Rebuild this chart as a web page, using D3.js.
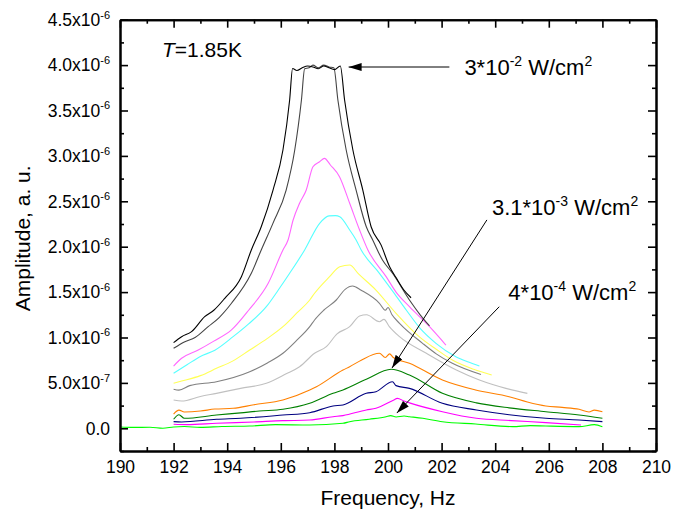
<!DOCTYPE html>
<html>
<head>
<meta charset="utf-8">
<script src="https://cdn.jsdelivr.net/npm/d3@7"></script>
<style>
  html, body { margin: 0; padding: 0; background: #fff; }
  svg { display: block; font-family: "Liberation Sans", Arial, sans-serif; }
</style>
</head>
<body>
<svg id="chart" width="689" height="516"></svg>
<script>
// ---------- DATA (frequency in Hz, amplitude in units of 1e-6 a.u.) ----------
const xMajorTicks = [190, 192, 194, 196, 198, 200, 202, 204, 206, 208, 210];
const xMinorTicks = [191, 193, 195, 197, 199, 201, 203, 205, 207, 209];
const yMajorTicks = [0, 0.5, 1.0, 1.5, 2.0, 2.5, 3.0, 3.5, 4.0, 4.5];
const yMinorTicks = [-0.25, 0.25, 0.75, 1.25, 1.75, 2.25, 2.75, 3.25, 3.75, 4.25];
const yTickMantissa = ["0.0", "5.0", "1.0", "1.5", "2.0", "2.5", "3.0", "3.5", "4.0", "4.5"];
const yTickExponent = ["", "-7", "-6", "-6", "-6", "-6", "-6", "-6", "-6", "-6"];

const curveBlack = [[192.0,0.943],[192.3,1.009],[192.67,1.064],[193.16,1.229],[193.5,1.3],[193.91,1.432],[194.53,1.67],[194.9,1.964],[195.27,2.22],[195.71,2.624],[196.08,3.065],[196.33,3.616],[196.44,3.963],[196.6,3.94],[196.8,3.97],[197.0,3.99],[197.2,3.98],[197.4,3.96],[197.6,3.99],[197.8,3.97],[198.0,3.95],[198.22,3.99],[198.38,3.616],[198.69,3.065],[199.06,2.624],[199.37,2.22],[199.74,2.02],[200.06,1.78],[200.3,1.66],[200.6,1.52],[200.86,1.438]];
const curveDarkGray = [[192.0,0.881],[192.42,0.954],[192.8,1.0],[193.29,1.119],[193.7,1.22],[194.16,1.377],[194.9,1.707],[195.27,1.964],[195.71,2.26],[196.2,2.624],[196.52,3.065],[196.77,3.616],[196.89,3.96],[197.05,3.97],[197.2,4.0],[197.4,3.97],[197.6,4.0],[197.8,3.98],[197.98,3.97],[198.13,3.616],[198.44,3.065],[198.81,2.624],[199.19,2.22],[199.43,2.074],[199.8,1.85],[200.17,1.707],[200.8,1.413],[201.2,1.25],[201.55,1.127]];
const curveViolet = [[192.0,0.686],[192.3,0.771],[192.92,0.862],[193.5,0.96],[194.16,1.083],[194.8,1.3],[195.53,1.597],[196.08,1.964],[196.27,2.074],[196.46,2.294],[196.7,2.478],[196.95,2.624],[197.2,2.88],[197.45,2.936],[197.63,2.973],[197.85,2.9],[198.19,2.771],[198.57,2.478],[198.94,2.184],[199.25,1.964],[199.93,1.67],[200.3,1.5],[200.8,1.339],[201.55,1.119],[202.16,0.917]];
const curveCyan = [[192.0,0.606],[192.5,0.7],[192.98,0.789],[193.54,0.86],[194.22,1.009],[194.8,1.15],[195.46,1.339],[195.9,1.52],[196.33,1.707],[196.89,1.964],[197.45,2.258],[197.8,2.34],[198.04,2.342],[198.2,2.33],[198.57,2.184],[198.81,2.074],[199.0,1.964],[199.68,1.707],[200.2,1.5],[200.68,1.303],[201.2,1.1],[201.79,0.936],[202.53,0.789],[203.0,0.73],[203.41,0.686]];
const curveYellow = [[192.0,0.496],[192.3,0.52],[193.0,0.58],[193.6,0.66],[194.2,0.74],[194.84,0.862],[195.5,0.99],[196.08,1.119],[196.6,1.27],[197.08,1.413],[197.26,1.487],[197.82,1.67],[198.2,1.78],[198.57,1.798],[198.9,1.7],[199.55,1.523],[200.3,1.266],[201.16,1.009],[201.8,0.87],[202.4,0.752],[203.2,0.65],[203.87,0.587]];
const curveGray = [[192.0,0.43],[192.2,0.42],[192.6,0.47],[193.6,0.513],[194.84,0.623],[195.5,0.72],[196.08,0.826],[196.6,0.97],[197.08,1.119],[197.26,1.193],[197.6,1.3],[198.07,1.413],[198.4,1.53],[198.68,1.567],[199.0,1.52],[199.68,1.377],[199.9,1.3],[200.0,1.33],[200.15,1.25],[200.43,1.156],[201.29,0.936],[201.8,0.82],[202.4,0.716],[203.47,0.592]];
const curveSilver = [[192.0,0.312],[192.3,0.3],[193.0,0.35],[193.6,0.385],[194.5,0.44],[195.46,0.495],[196.2,0.6],[196.7,0.678],[197.26,0.826],[197.7,0.899],[198.1,1.04],[198.57,1.119],[198.94,1.237],[199.2,1.25],[199.68,1.174],[199.85,1.2],[200.05,1.12],[200.43,1.009],[201.43,0.826],[202.55,0.642],[203.41,0.532],[204.4,0.44],[205.2,0.385]];
const curveOrange = [[192.0,0.157],[192.2,0.2],[192.4,0.18],[193.0,0.19],[193.54,0.212],[194.22,0.22],[195.0,0.26],[196.08,0.312],[197.08,0.422],[197.33,0.458],[198.32,0.642],[198.57,0.678],[199.0,0.75],[199.68,0.826],[199.9,0.78],[200.06,0.82],[200.2,0.78],[200.8,0.716],[202.03,0.532],[203.27,0.422],[204.52,0.348],[205.2,0.29],[205.89,0.246],[206.5,0.23],[207.13,0.209],[207.5,0.18],[207.7,0.2],[208.0,0.183]];
const curveDarkGreen = [[192.0,0.1],[192.2,0.15],[192.4,0.11],[193.6,0.146],[194.5,0.17],[195.2,0.19],[196.08,0.209],[197.08,0.275],[197.95,0.385],[198.32,0.422],[199.19,0.54],[200.12,0.65],[200.8,0.587],[202.03,0.385],[203.3,0.28],[204.52,0.225],[205.89,0.183],[207.13,0.146],[208.0,0.11]];
const curveNavy = [[192.0,0.073],[192.3,0.07],[193.6,0.099],[194.5,0.11],[196.08,0.146],[197.08,0.172],[197.95,0.246],[198.32,0.257],[199.19,0.385],[199.55,0.403],[200.17,0.513],[200.3,0.47],[200.8,0.44],[202.03,0.275],[203.3,0.202],[204.52,0.15],[205.89,0.11],[207.13,0.091],[208.0,0.073]];
const curveMagenta = [[192.0,0.044],[192.5,0.04],[193.6,0.055],[195.0,0.07],[196.08,0.084],[197.08,0.091],[197.95,0.128],[198.32,0.14],[199.19,0.202],[199.55,0.22],[200.2,0.31],[200.35,0.33],[200.6,0.3],[200.8,0.28],[202.03,0.183],[203.3,0.11],[204.6,0.085],[205.89,0.062],[207.2,0.036]];
const curveLime = [[190.0,0.015],[190.5,0.01],[191.12,0.011],[191.6,0.0],[192.0,0.015],[192.4,0.02],[193.0,0.01],[193.8,0.02],[194.84,0.025],[195.8,0.04],[197.08,0.036],[198.32,0.055],[198.57,0.073],[199.3,0.1],[199.93,0.128],[200.1,0.14],[200.3,0.125],[200.6,0.135],[200.8,0.128],[201.3,0.11],[202.03,0.073],[203.27,0.047],[204.65,0.018],[205.3,0.03],[205.89,0.025],[207.13,0.018],[207.7,0.04],[208.0,0.018]];

const seriesData = [curveBlack, curveDarkGray, curveViolet, curveCyan, curveYellow, curveGray, curveSilver, curveOrange, curveDarkGreen, curveNavy, curveMagenta, curveLime];
const seriesColors = ["#000000", "#444444", "#ff66ff", "#55ffff", "#ffff55", "#808080", "#c0c0c0", "#ff8000", "#008000", "#000080", "#ff00ff", "#00ff00"];

// annotations
const annoBase = ["3*10", "3.1*10", "4*10"];
const annoExp = ["-2", "-3", "-4"];
const annoTail = [[202.29, 3.979], [203.69, 2.295], [204.15, 1.339]];
const annoHead = [[198.53, 3.979], [200.15, 0.664], [200.33, 0.168]];
const annoText = [[202.85, 3.89], [203.88, 2.349], [204.49, 1.413]];

// ---------- CHART ----------
const svg = d3.select("#chart");
const L = 120, R = 656, T = 19.7, B = 451;
const x = d3.scaleLinear().domain([190, 210]).range([L, R]);
const y = d3.scaleLinear().domain([-0.25, 4.5]).range([B, T]);

svg.append("defs").append("marker")
  .attr("id", "arrow").attr("viewBox", "0 0 13 8").attr("refX", 13).attr("refY", 4)
  .attr("markerWidth", 13).attr("markerHeight", 8).attr("markerUnits", "userSpaceOnUse")
  .attr("orient", "auto")
  .append("path").attr("d", "M0,0 L13,4 L0,8 Z").attr("fill", "#000");

// curves
const line = d3.line().x(d => x(d[0])).y(d => y(d[1])).curve(d3.curveMonotoneX);
svg.append("g").selectAll("path").data(seriesData.slice().reverse()).join("path")
  .attr("d", line)
  .attr("fill", "none")
  .attr("stroke", (d, i) => seriesColors[seriesColors.length - 1 - i])
  .attr("stroke-width", 1.1)
  .attr("stroke-linejoin", "round");

// axes
function styleAxis(g) {
  g.selectAll(".domain").attr("stroke", "#000").attr("stroke-width", 2);
  g.selectAll(".tick line").attr("stroke", "#000").attr("stroke-width", 1.6);
}
const gx = svg.append("g").attr("transform", `translate(0,${B})`);
gx.call(d3.axisBottom(x).tickValues(xMajorTicks).tickSize(-8).tickSizeOuter(0).tickPadding(10).tickFormat(d => d))
  .call(styleAxis);
gx.selectAll("text").attr("font-size", 17.5).attr("font-family", "Liberation Sans, Arial, sans-serif").attr("fill", "#000");
svg.append("g").attr("transform", `translate(0,${B})`)
  .call(d3.axisBottom(x).tickValues(xMinorTicks).tickSize(-4).tickSizeOuter(0).tickFormat(""))
  .call(styleAxis);
svg.append("g").attr("transform", `translate(0,${T})`)
  .call(d3.axisTop(x).tickValues(xMajorTicks).tickSize(-8).tickSizeOuter(0).tickFormat(""))
  .call(styleAxis);
svg.append("g").attr("transform", `translate(0,${T})`)
  .call(d3.axisTop(x).tickValues(xMinorTicks).tickSize(-4).tickSizeOuter(0).tickFormat(""))
  .call(styleAxis);
svg.append("g").attr("transform", `translate(${L},0)`)
  .call(d3.axisLeft(y).tickValues(yMajorTicks).tickSize(-8).tickSizeOuter(0).tickFormat(""))
  .call(styleAxis);
svg.append("g").attr("transform", `translate(${L},0)`)
  .call(d3.axisLeft(y).tickValues(yMinorTicks).tickSize(-4).tickSizeOuter(0).tickFormat(""))
  .call(styleAxis);
svg.append("g").attr("transform", `translate(${R},0)`)
  .call(d3.axisRight(y).tickValues(yMajorTicks).tickSize(-8).tickSizeOuter(0).tickFormat(""))
  .call(styleAxis);
svg.append("g").attr("transform", `translate(${R},0)`)
  .call(d3.axisRight(y).tickValues(yMinorTicks).tickSize(-4).tickSizeOuter(0).tickFormat(""))
  .call(styleAxis);

// y tick labels with superscripts
const yl = svg.append("g").selectAll("text").data(yMajorTicks).join("text")
  .attr("x", 110).attr("y", d => y(d)).attr("dy", "0.36em")
  .attr("text-anchor", "end").attr("font-size", 17.5).attr("fill", "#000");
yl.each(function(d, i) {
  const t = d3.select(this);
  if (yTickExponent[i]) {
    t.append("tspan").text(yTickMantissa[i] + "x10");
    t.append("tspan").attr("font-size", 11).attr("dy", -7.5).text(yTickExponent[i]);
  } else {
    t.append("tspan").text(yTickMantissa[i]);
  }
});

// axis titles
svg.append("text").attr("x", (L + R) / 2).attr("y", 505).attr("text-anchor", "middle")
  .attr("font-size", 21).attr("fill", "#000").text("Frequency, Hz");
svg.append("text").attr("transform", `translate(30,${(T + B) / 2 + 3}) rotate(-90)`)
  .attr("text-anchor", "middle").attr("font-size", 21).attr("fill", "#000").text("Amplitude, a. u.");

// temperature label
const tl = svg.append("text").attr("x", 162).attr("y", 56.5).attr("font-size", 21).attr("fill", "#000");
tl.append("tspan").attr("font-style", "italic").text("T");
tl.append("tspan").text("=1.85K");

// annotations
annoBase.forEach((b, i) => {
  svg.append("line")
    .attr("x1", x(annoTail[i][0])).attr("y1", y(annoTail[i][1]))
    .attr("x2", x(annoHead[i][0])).attr("y2", y(annoHead[i][1]))
    .attr("stroke", "#000").attr("stroke-width", 1)
    .attr("marker-end", "url(#arrow)");
  const t = svg.append("text").attr("x", x(annoText[i][0])).attr("y", y(annoText[i][1]))
    .attr("font-size", 22).attr("fill", "#000");
  t.append("tspan").text(b);
  t.append("tspan").attr("font-size", 14).attr("dy", -9).text(annoExp[i]);
  t.append("tspan").attr("dy", 9).text(" W/cm");
  t.append("tspan").attr("font-size", 14).attr("dy", -9).text("2");
});
</script>
</body>
</html>
